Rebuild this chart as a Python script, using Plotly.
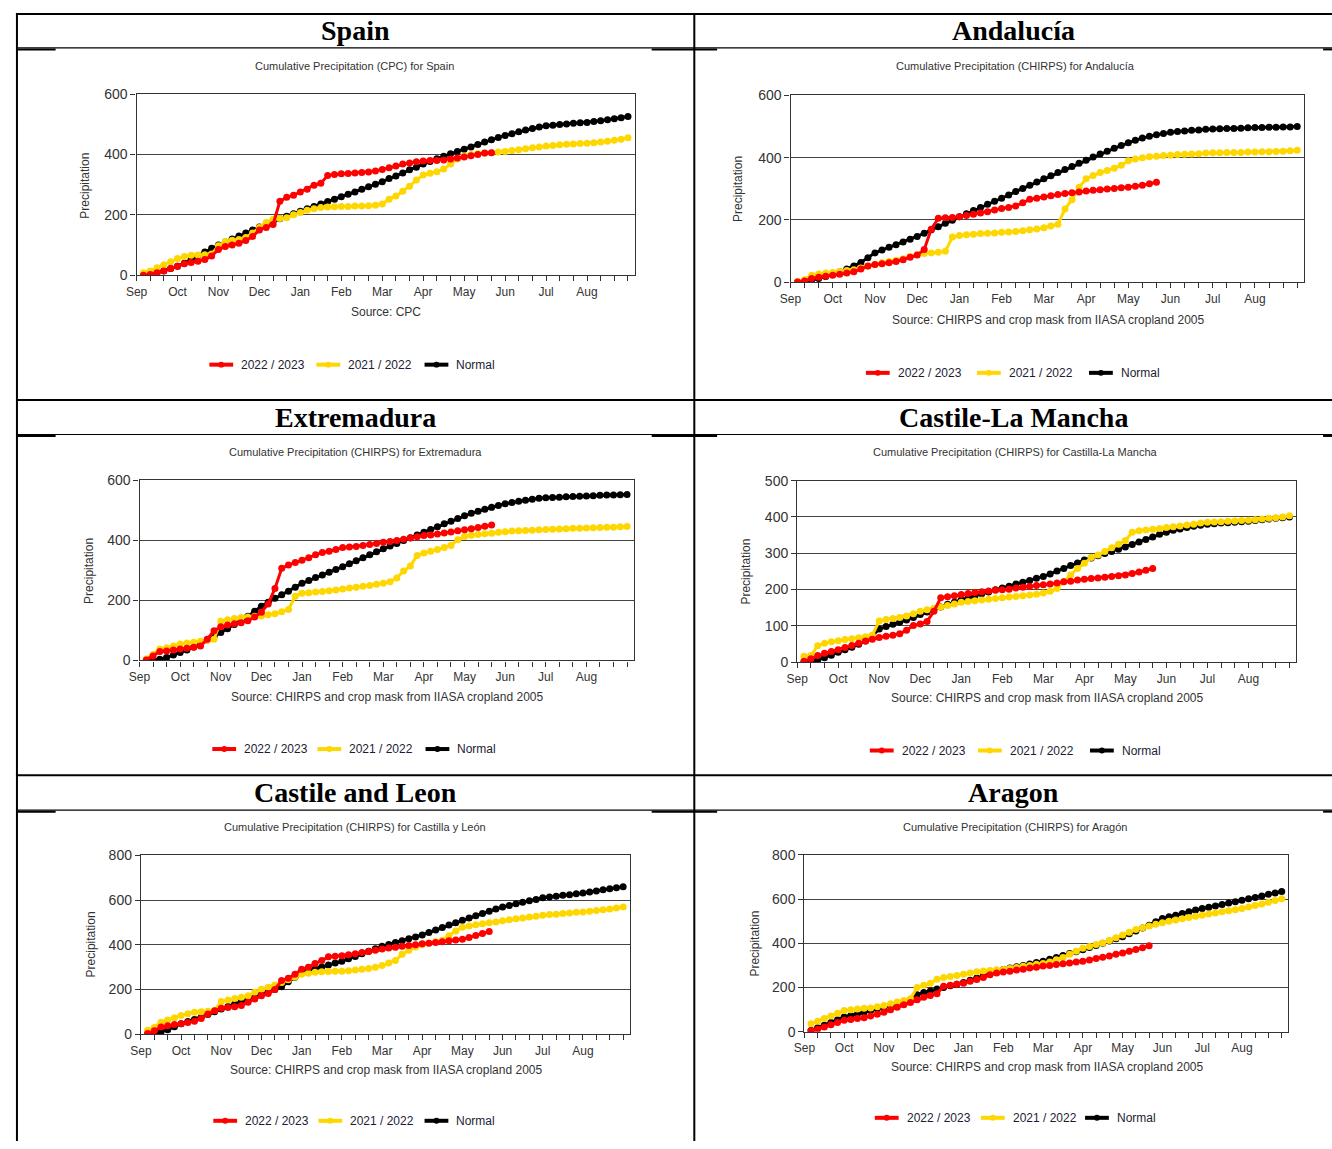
import plotly.graph_objects as go

W, H = 1332, 1149

# ---- data: cumulative precipitation (mm) per pentad, Sep 1 -> Aug 31 ----
MONTHS = ["Sep", "Oct", "Nov", "Dec", "Jan", "Feb", "Mar", "Apr", "May", "Jun", "Jul", "Aug"]
SERIES = ["2022 / 2023", "2021 / 2022", "Normal"]

spain_normal = [0, 2, 8, 15, 22, 30,
                40, 52, 65, 77, 89, 100,
                110, 120, 130, 140, 150, 160,
                169, 178, 187, 195, 204, 212,
                220, 228, 236, 244, 252, 260,
                268, 276, 285, 293, 301, 310,
                320, 329, 339, 349, 358, 368,
                377, 386, 394, 402, 410, 417,
                425, 433, 441, 449, 456, 463,
                469, 475, 481, 486, 491, 495,
                497, 499, 501, 503, 505, 506,
                509, 512, 515, 518, 522, 526]
spain_2122 = [8, 14, 25, 35, 45, 55,
              62, 66, 67, 68, 70, 98,
              112, 116, 118, 125, 140, 158,
              175, 185, 188, 190, 200, 208,
              215, 220, 224, 226, 227, 228,
              228, 229, 229, 230, 232, 236,
              252, 262, 278, 295, 315, 332,
              338, 343, 352, 368, 385, 395,
              400, 402, 404, 406, 408, 410,
              413, 416, 419, 422, 425, 428,
              430, 432, 434, 435, 436, 437,
              439, 441, 444, 447, 450, 455]
spain_2223 = [0, 2, 8, 14, 22, 30,
              38, 42, 46, 52, 64, 85,
              95, 100, 106, 115, 128, 150,
              158, 168, 245, 258, 265, 276,
              285, 298, 305, 330, 334, 336,
              337, 339, 340, 342, 345, 350,
              356, 362, 368, 372, 376, 378,
              380, 380, 382, 385, 388, 392,
              396, 400, 405, 406]

andalucia_normal = [0, 2, 6, 12, 18, 25,
                    33, 42, 52, 63, 78, 94,
                    103, 112, 120, 129, 138, 147,
                    157, 168, 178, 189, 199, 210,
                    220, 230, 240, 250, 260, 270,
                    280, 291, 301, 311, 322, 332,
                    342, 352, 362, 372, 382, 392,
                    402, 412, 421, 430, 439, 448,
                    456, 463, 469, 474, 478, 482,
                    484, 486, 488, 489, 491, 492,
                    493, 494, 494, 495, 496, 497,
                    497, 498, 498, 499, 499, 500]
andalucia_2122 = [2, 8, 22, 26, 29, 31,
                  34, 37, 40, 45, 51, 57,
                  62, 66, 70, 75, 82, 88,
                  92, 94, 96, 99, 145, 150,
                  152, 154, 156, 157, 158, 160,
                  161, 163, 165, 168, 171, 175,
                  180, 186, 235, 265, 305, 332,
                  343, 352, 359, 366, 376, 390,
                  396, 400, 403, 405, 407, 408,
                  410, 411, 412, 413, 415, 416,
                  416, 417, 417, 417, 418, 418,
                  419, 419, 420, 421, 422, 424]
andalucia_2223 = [0, 4, 12, 16, 19, 22,
                  25, 29, 33, 42, 52, 57,
                  59, 62, 66, 72, 80, 87,
                  105, 170, 205, 207, 208, 210,
                  214, 218, 222, 226, 232, 237,
                  240, 245, 255, 266, 270, 274,
                  278, 282, 285, 287, 290, 293,
                  295, 297, 299, 301, 303, 305,
                  308, 311, 316, 321]

extremadura_normal = [0, 1, 4, 10, 18, 27,
                      35, 45, 56, 68, 80, 93,
                      106, 120, 133, 147, 164, 181,
                      194, 207, 219, 231, 244, 257,
                      266, 276, 285, 294, 303, 312,
                      322, 332, 342, 352, 362, 372,
                      381, 390, 400, 409, 418, 427,
                      436, 445, 455, 464, 473, 482,
                      490, 497, 504, 510, 516, 522,
                      526, 530, 534, 537, 540, 542,
                      543, 544, 545, 546, 547, 548,
                      549, 550, 551, 551, 552, 553]
extremadura_2122 = [5, 20, 38, 42, 48, 55,
                    58, 61, 64, 67, 71, 131,
                    136, 140, 143, 145, 147, 148,
                    152, 156, 162, 170, 214, 224,
                    226, 228, 230, 232, 235, 238,
                    241, 244, 247, 250, 254, 257,
                    262, 275, 298, 315, 350, 358,
                    364, 370, 376, 383, 402, 413,
                    417, 420, 422, 424, 427, 429,
                    431, 432, 433, 434, 435, 436,
                    437, 438, 439, 440, 440, 441,
                    442, 443, 444, 444, 445, 446]
extremadura_2223 = [2, 15, 30, 32, 35, 38,
                    41, 44, 48, 71, 99, 112,
                    118, 122, 126, 132, 145, 161,
                    188, 240, 307, 318, 326, 334,
                    342, 352, 360, 364, 370, 376,
                    378, 380, 383, 386, 390, 394,
                    396, 400, 404, 408, 412, 416,
                    418, 421, 425, 428, 432, 435,
                    439, 443, 447, 451]

clm_normal = [0, 2, 6, 12, 19, 27,
              34, 41, 49, 58, 72, 91,
              98, 104, 110, 116, 123, 131,
              138, 145, 152, 159, 165, 172,
              177, 183, 188, 193, 199, 204,
              209, 215, 220, 225, 231, 236,
              243, 251, 258, 266, 273, 281,
              287, 293, 299, 305, 311, 317,
              324, 331, 338, 345, 352, 358,
              363, 367, 371, 374, 377, 380,
              381, 383, 384, 385, 387, 388,
              390, 392, 394, 396, 398, 400]
clm_2122 = [16, 18, 45, 52, 56, 59,
            62, 64, 67, 70, 74, 113,
            117, 120, 123, 127, 133, 140,
            144, 148, 152, 156, 160, 165,
            167, 169, 171, 173, 175, 177,
            179, 181, 183, 185, 187, 190,
            195, 203, 222, 240, 258, 272,
            288, 295, 305, 315, 325, 335,
            358, 362, 364, 366, 368, 371,
            373, 375, 378, 380, 383, 385,
            386, 387, 388, 389, 390, 391,
            392, 394, 396, 398, 400, 403]
clm_2223 = [2, 9, 18, 24, 29, 34,
            40, 46, 52, 58, 63, 68,
            71, 74, 78, 88, 101, 105,
            112, 140, 177, 180, 183, 186,
            189, 192, 194, 196, 198, 199,
            201, 204, 206, 208, 211, 213,
            215, 218, 221, 223, 226, 228,
            230, 232, 234, 236, 238, 240,
            244, 248, 253, 258]

cyl_normal = [0, 2, 10, 20, 33, 47,
              57, 66, 76, 88, 100, 113,
              124, 135, 146, 157, 168, 179,
              190, 200, 212, 235, 255, 275,
              284, 292, 301, 309, 318, 326,
              337, 348, 360, 371, 382, 393,
              401, 410, 418, 427, 435, 444,
              455, 466, 477, 488, 499, 510,
              520, 530, 540, 550, 560, 569,
              576, 583, 590, 597, 603, 610,
              614, 617, 621, 624, 628, 631,
              636, 641, 646, 650, 655, 660]
cyl_2122 = [18, 30, 54, 64, 74, 84,
            92, 98, 100, 103, 106, 146,
            153, 160, 165, 172, 188, 201,
            210, 220, 231, 244, 256, 268,
            273, 277, 279, 280, 281, 282,
            284, 287, 290, 294, 300, 307,
            318, 330, 358, 375, 390, 400,
            408, 414, 420, 440, 462, 478,
            484, 489, 494, 498, 502, 507,
            512, 516, 520, 524, 528, 532,
            535, 537, 540, 542, 545, 547,
            550, 553, 557, 560, 564, 569]
cyl_2223 = [3, 15, 32, 38, 43, 47,
            52, 58, 70, 90, 105, 116,
            119, 123, 128, 143, 158, 172,
            182, 200, 240, 250, 268, 290,
            300, 316, 330, 346, 349, 351,
            355, 360, 365, 370, 376, 381,
            385, 389, 393, 397, 400, 404,
            407, 410, 414, 418, 421, 425,
            433, 442, 450, 459]

aragon_normal = [6, 18, 30, 42, 55, 67,
                 74, 81, 89, 96, 104, 111,
                 120, 128, 137, 146, 168, 178,
                 185, 193, 200, 208, 215, 223,
                 233, 243, 253, 262, 272, 282,
                 288, 294, 300, 306, 313, 319,
                 328, 336, 345, 354, 362, 371,
                 381, 390, 400, 410, 420, 430,
                 443, 456, 469, 482, 497, 512,
                 520, 527, 535, 542, 550, 557,
                 563, 569, 575, 582, 588, 594,
                 601, 607, 614, 621, 627, 634]
aragon_2122 = [37, 48, 60, 72, 84, 96,
               100, 103, 106, 108, 113, 119,
               127, 135, 142, 150, 200, 211,
               220, 237, 245, 250, 255, 260,
               266, 271, 275, 277, 280, 282,
               286, 291, 296, 300, 305, 309,
               316, 326, 336, 350, 364, 378,
               386, 394, 401, 413, 425, 438,
               450, 462, 470, 478, 486, 493,
               499, 505, 511, 516, 522, 527,
               532, 537, 542, 547, 552, 557,
               564, 571, 578, 585, 593, 601]
aragon_2223 = [5, 12, 22, 32, 42, 52,
               56, 60, 64, 72, 80, 89,
               100, 111, 122, 133, 145, 156,
               164, 172, 206, 210, 215, 220,
               228, 236, 245, 258, 266, 270,
               274, 279, 283, 288, 292, 297,
               300, 304, 308, 311, 315, 319,
               325, 331, 337, 343, 350, 356,
               364, 372, 380, 389]

CHIRPS_SRC = "Source: CHIRPS and crop mask from IIASA cropland 2005"

# ---- panel layout (pixel positions on the page) ----
PANELS = [
    dict(header="Spain", hx=347, hy=23,
         title="Cumulative Precipitation (CPC) for Spain", tx=346.7, ty=59,
         source="Source: CPC", sx=378, sy=308.7,
         ytitle_xy=(74.8, 180),
         series=(spain_2223, spain_2122, spain_normal), ymax=600, dtick=200,
         box=(126.6, 629, 87.3, 271),
         legend=(361.7, [200, 308, 417])),
    dict(header="Andalucía", hx=1011, hy=23,
         title="Cumulative Precipitation (CHIRPS) for Andalucía", tx=1012.4, ty=59.3,
         source=CHIRPS_SRC, sx=1046, sy=316,
         ytitle_xy=(733.6, 184),
         series=(andalucia_2223, andalucia_2122, andalucia_normal), ymax=600, dtick=200,
         box=(786, 1304, 88.7, 278),
         legend=(370, [862, 974, 1087])),
    dict(header="Extremadura", hx=347, hy=415,
         title="Cumulative Precipitation (CHIRPS) for Extremadura", tx=347, ty=450.7,
         source=CHIRPS_SRC, sx=379, sy=698.7,
         ytitle_xy=(78.5, 571),
         series=(extremadura_2223, extremadura_2122, extremadura_normal), ymax=600, dtick=200,
         box=(129.6, 628, 479, 661.7),
         legend=(751.5, [203, 309, 418])),
    dict(header="Castile-La Mancha", hx=1011, hy=415,
         title="Cumulative Precipitation (CHIRPS) for Castilla-La Mancha", tx=1012.8, ty=450.7,
         source=CHIRPS_SRC, sx=1045, sy=700,
         ytitle_xy=(741, 571.7),
         series=(clm_2223, clm_2122, clm_normal), ymax=500, dtick=100,
         box=(792.7, 1296, 479.3, 663.3),
         legend=(753, [866, 975, 1088])),
    dict(header="Castile and Leon", hx=347, hy=796,
         title="Cumulative Precipitation (CHIRPS) for Castilla y León", tx=346.5, ty=831,
         source=CHIRPS_SRC, sx=378, sy=1076.7,
         ytitle_xy=(80.3, 950),
         series=(cyl_2223, cyl_2122, cyl_normal), ymax=800, dtick=200,
         box=(131, 624, 859.3, 1040.7),
         legend=(1128.5, [204, 310, 417])),
    dict(header="Aragon", hx=1011, hy=796,
         title="Cumulative Precipitation (CHIRPS) for Aragón", tx=1012.7, ty=831,
         source=CHIRPS_SRC, sx=1044.7, sy=1074,
         ytitle_xy=(750, 949),
         series=(aragon_2223, aragon_2122, aragon_normal), ymax=800, dtick=200,
         box=(800, 1288, 858.7, 1038.3),
         legend=(1125.5, [871, 978, 1083])),
]

COLORS = ["#FF0000", "#FFD700", "#000000"]
SANS = "Liberation Sans, Arial, sans-serif"
SERIF = "Liberation Serif, Times New Roman, serif"
TEXT = "#333333"


def fx(px):
    return px / W


def fy(py):
    return 1 - py / H


fig = go.Figure()
annotations = []
shapes = []
axes = {}

# x positions: pentad index expressed in dekads (3 per month)
for k, p in enumerate(PANELS, start=1):
    sfx = "" if k == 1 else str(k)
    xa, ya = "x" + sfx, "y" + sfx
    # draw Normal first, then 2021/22, then 2022/23 on top
    for idx in (2, 1, 0):
        vals = p["series"][idx]
        xs = [(i + 1) / 2 for i in range(len(vals))]
        fig.add_trace(go.Scatter(
            x=xs, y=vals, mode="lines+markers", name=SERIES[idx],
            line=dict(color=COLORS[idx], width=3),
            marker=dict(color=COLORS[idx], size=7),
            xaxis=xa, yaxis=ya, showlegend=False))

    x0, x1, y0, y1 = p["box"]
    ticktext = [MONTHS[d // 3] if d % 3 == 0 and d < 36 else "" for d in range(37)]
    axes["xaxis" + sfx] = dict(
        domain=[fx(x0), fx(x1)], anchor=ya, range=[0, 36.5],
        tickmode="array", tickvals=list(range(37)), ticktext=ticktext,
        ticks="outside", ticklen=5, tickwidth=1, tickcolor="#333",
        showline=True, linecolor="#333", linewidth=1.3, mirror=True,
        showgrid=False, zeroline=False,
        tickfont=dict(family=SANS, size=12, color=TEXT))
    axes["yaxis" + sfx] = dict(
        domain=[fy(y1), fy(y0)], anchor=xa, range=[0, p["ymax"]],
        tickmode="linear", tick0=0, dtick=p["dtick"],
        ticks="outside", ticklen=5, tickwidth=1, tickcolor="#333",
        showline=True, linecolor="#333", linewidth=1.3, mirror=True,
        showgrid=True, gridcolor="#444444", gridwidth=1.2, zeroline=False,
        tickfont=dict(family=SANS, size=14, color=TEXT))

    # header of the table cell
    annotations.append(dict(
        text="<b>%s</b>" % p["header"], x=fx(p["hx"]), y=fy(p["hy"]),
        xref="paper", yref="paper", xanchor="center", yanchor="middle",
        showarrow=False, font=dict(family=SERIF, size=28, color="#000")))
    # chart title
    annotations.append(dict(
        text=p["title"], x=fx(p["tx"]), y=fy(p["ty"]),
        xref="paper", yref="paper", xanchor="center", yanchor="middle",
        showarrow=False, font=dict(family=SANS, size=11, color=TEXT)))
    # source line
    annotations.append(dict(
        text=p["source"], x=fx(p["sx"]), y=fy(p["sy"]),
        xref="paper", yref="paper", xanchor="center", yanchor="middle",
        showarrow=False, font=dict(family=SANS, size=12, color=TEXT)))
    # y-axis title
    tx, ty = p["ytitle_xy"]
    annotations.append(dict(
        text="Precipitation", x=fx(tx), y=fy(ty), textangle=-90,
        xref="paper", yref="paper", xanchor="center", yanchor="middle",
        showarrow=False, font=dict(family=SANS, size=12, color=TEXT)))

    # legend row below each chart
    ly, lxs = p["legend"]
    for idx, lx in enumerate(lxs):
        shapes.append(dict(type="line", xref="paper", yref="paper",
                           x0=fx(lx), x1=fx(lx + 24), y0=fy(ly), y1=fy(ly),
                           line=dict(color=COLORS[idx], width=4)))
        cx = lx + 12
        shapes.append(dict(type="circle", xref="paper", yref="paper",
                           x0=fx(cx - 3), x1=fx(cx + 3), y0=fy(ly + 3), y1=fy(ly - 3),
                           fillcolor=COLORS[idx], line=dict(color=COLORS[idx], width=0)))
        annotations.append(dict(
            text=SERIES[idx], x=fx(lx + 30), y=fy(ly),
            xref="paper", yref="paper", xanchor="left", yanchor="middle",
            showarrow=False, font=dict(family=SANS, size=12, color="#1c1c34")))


def hline(y, x0, x1, w):
    shapes.append(dict(type="line", xref="paper", yref="paper",
                       x0=fx(x0), x1=fx(x1), y0=fy(y), y1=fy(y),
                       line=dict(color="#000", width=w)))


def vline(x, y0, y1, w):
    shapes.append(dict(type="line", xref="paper", yref="paper",
                       x0=fx(x), x1=fx(x), y0=fy(y0), y1=fy(y1),
                       line=dict(color="#000", width=w)))


# table grid
hline(6, 5, W, 2)
vline(6, 5, H, 2)
vline(689, 5, H, 2)
for yb in (397.5, 778):
    hline(yb, 5, W, 2)
for yh in (40.5, 432.5, 813.5):
    hline(yh, 5, W, 1.2)
    hline(yh + 1.5, 7, 45, 2)
    hline(yh + 1.5, 646, 712, 2)
    hline(yh + 1.5, 1323, W, 2)

fig.update_layout(
    width=W, height=H, autosize=False,
    margin=dict(l=0, r=0, t=0, b=0),
    paper_bgcolor="white", plot_bgcolor="white",
    annotations=annotations, shapes=shapes,
    showlegend=False,
    **axes)

fig.write_html("out.html")
